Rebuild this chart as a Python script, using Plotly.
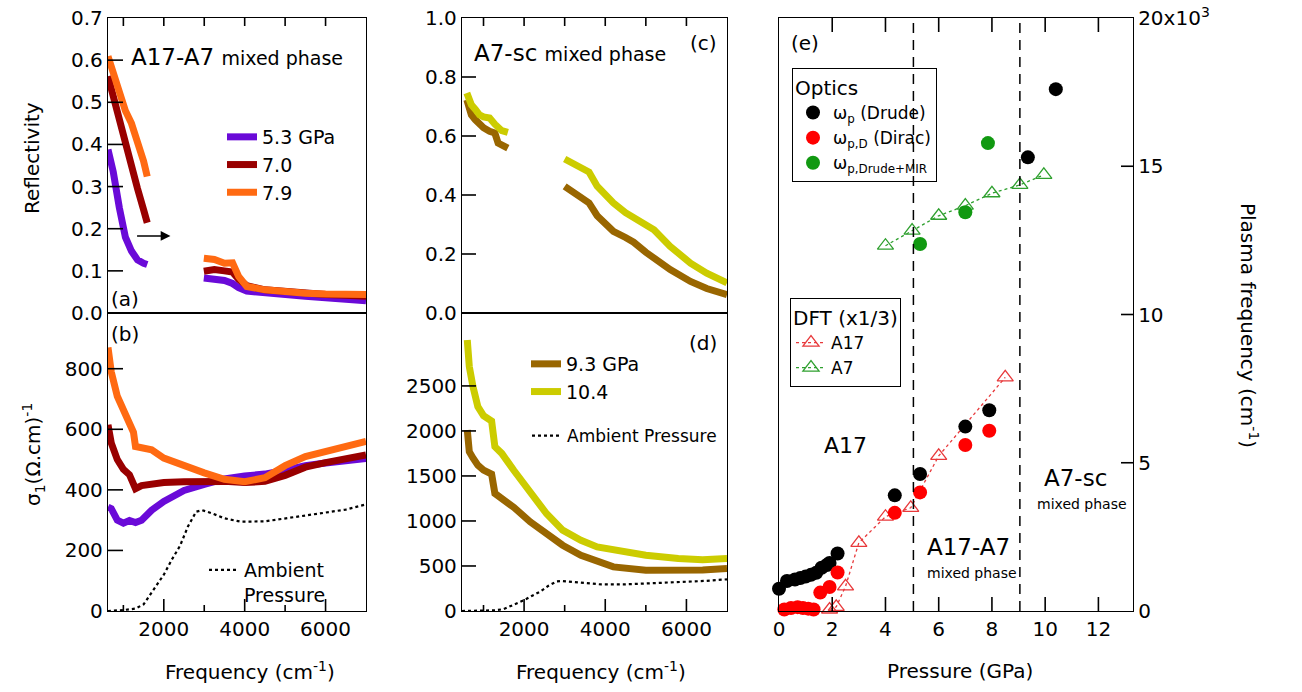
import plotly.graph_objects as go

FONT = "DejaVu Sans"
W, H = 1302, 692

# ---------------- Panel (a): reflectivity, A17-A7 mixed phase ----------------
pressures_a = ["5.3 GPa", "7.0", "7.9"]
freq_a_lo = [620, 750, 900, 1050, 1200, 1350, 1500, 1590]
refl_53_lo = [0.388, 0.335, 0.250, 0.180, 0.147, 0.126, 0.118, 0.115]
refl_70_lo = [0.562, 0.512, 0.455, 0.398, 0.350, 0.295, 0.245, 0.214]
refl_79_lo = [0.609, 0.570, 0.525, 0.480, 0.450, 0.410, 0.360, 0.324]
freq_a_hi = [2990, 3250, 3500, 3700, 3850, 4050, 4500, 5000, 5500, 6000, 6500, 7000]
refl_53_hi = [0.083, 0.080, 0.077, 0.070, 0.060, 0.052, 0.047, 0.043, 0.040, 0.036, 0.032, 0.029]
refl_70_hi = [0.099, 0.103, 0.100, 0.097, 0.080, 0.065, 0.055, 0.050, 0.047, 0.044, 0.042, 0.040]
refl_79_hi = [0.130, 0.127, 0.118, 0.119, 0.087, 0.063, 0.055, 0.050, 0.047, 0.045, 0.045, 0.044]

# ---------------- Panel (b): optical conductivity ----------------
freq_b = [620, 700, 850, 1000, 1150, 1250, 1300, 1450, 1700, 2000, 2500, 3000,
          3500, 4000, 4500, 5000, 5500, 6000, 6500, 7000]
sig_53 = [343, 338, 300, 290, 299, 292, 292, 300, 333, 362, 398, 418,
          436, 446, 452, 465, 480, 489, 496, 504]
sig_70 = [615, 555, 500, 468, 450, 410, 404, 414, 420, 424, 427, 430,
          428, 424, 428, 448, 475, 490, 502, 515]
sig_79 = [870, 790, 709, 665, 632, 590, 543, 537, 532, 505, 478, 456,
          435, 427, 440, 480, 510, 527, 543, 560]

# ambient pressure conductivity (shared by b and d)
freq_amb = [470, 620, 1000, 1300, 1500, 1750, 2000, 2200, 2400, 2600, 2800, 2950,
            3200, 3500, 3900, 4500, 5000, 5500, 6000, 6500, 7000]
sig_amb = [0, 0, 3, 8, 22, 70, 120, 170, 215, 280, 328, 333,
           322, 306, 295, 296, 305, 315, 325, 335, 352]

# ---------------- Panel (c): reflectivity, A7-sc mixed phase ----------------
pressures_c = ["9.3 GPa", "10.4"]
freq_c_lo = [590, 700, 800, 900, 1000, 1150, 1280, 1360, 1450, 1600]
refl_93_lo = [0.723, 0.672, 0.655, 0.638, 0.628, 0.616, 0.610, 0.576, 0.568, 0.559]
refl_104_lo = [0.746, 0.706, 0.690, 0.672, 0.665, 0.661, 0.640, 0.627, 0.618, 0.612]
freq_c_hi = [3000, 3300, 3600, 3800, 4000, 4200, 4500, 4700, 5000, 5200, 5600, 6100, 6500, 7000]
refl_104_hi = [0.522, 0.503, 0.478, 0.430, 0.400, 0.373, 0.340, 0.322, 0.302, 0.282, 0.226, 0.169, 0.135, 0.102]
refl_93_hi = [0.429, 0.401, 0.373, 0.330, 0.300, 0.277, 0.256, 0.240, 0.206, 0.185, 0.147, 0.107, 0.083, 0.062]

# ---------------- Panel (d): optical conductivity ----------------
freq_d = [600, 650, 740, 860, 1000, 1150, 1200, 1280, 1450, 1750, 2150, 2550,
          2950, 3400, 3800, 4200, 5000, 5800, 6400, 7000]
sig_104 = [3010, 2715, 2493, 2270, 2170, 2130, 2110, 1825, 1751, 1560, 1306, 1083,
           898, 786, 712, 675, 620, 582, 570, 582]
sig_93 = [2010, 1769, 1700, 1620, 1565, 1528, 1520, 1306, 1250, 1150, 990, 860,
          731, 619, 545, 490, 452, 445, 455, 471]

# ---------------- Panel (e): plasma frequency vs pressure ----------------
p_drude = [0.0, 0.3, 0.6, 0.8, 1.0, 1.2, 1.4, 1.6, 1.8, 1.9, 2.2, 4.35, 5.3, 7.0, 7.9, 9.35, 10.4]
wp_drude = [750, 1010, 1060, 1110, 1160, 1220, 1290, 1460, 1550, 1620, 1940,
            3900, 4620, 6220, 6770, 15300, 17600]
p_dirac = [-0.1, 0.2, 0.45, 0.7, 0.9, 1.1, 1.3, 1.55, 1.9, 2.2, 4.35, 5.3, 7.0, 7.9]
wp_dirac = [20, 50, 100, 130, 100, 80, 50, 620, 810, 1300, 3310, 4000, 5600, 6080]
p_drude_mir = [5.3, 7.0, 7.85]
wp_drude_mir = [12380, 13450, 15780]
p_dft_a17 = [1.9, 2.15, 2.5, 3.0, 4.0, 4.95, 6.0, 8.5]
wp_dft_a17 = [50, 140, 830, 2300, 3180, 3480, 5230, 7880]
p_dft_a7 = [4.0, 5.0, 6.0, 7.0, 8.0, 9.05, 9.95]
wp_dft_a7 = [12320, 12830, 13330, 13670, 14090, 14370, 14710]
phase_boundaries = [5.05, 9.05]

# ---------------- axis ranges and tick values ----------------
range_freq_ab = [620, 7000]
range_freq_cd = [470, 7000]
range_refl_a = [0, 0.7]
range_refl_c = [0, 1.0]
range_sig_b = [0, 984]
range_sig_d = [0, 3310]
range_p = [0, 13.3]
range_wp = [0, 20000]
freq_top_ticks = [1000, 2000, 3000, 4000, 5000, 6000]
freq_major_ticks = [2000, 4000, 6000]
freq_minor_ticks = [1000, 3000, 5000]
refl_a_ticks = [0.0, 0.1, 0.2, 0.3, 0.4, 0.5, 0.6, 0.7]
refl_c_ticks = [0.0, 0.2, 0.4, 0.6, 0.8, 1.0]
sig_b_ticks = [0, 200, 400, 600, 800]
sig_d_ticks = [0, 500, 1000, 1500, 2000, 2500]
p_ticks = [0, 2, 4, 6, 8, 10, 12]
e_yticks = [0, 5000, 10000, 15000, 20000]
e_yticktext = ["0", "5", "10", "15", "20x10<sup>3</sup>"]

# ---------------- colours ----------------
C_53, C_70, C_79 = "#6A0AD8", "#990000", "#FF6A12"
C_93, C_104 = "#996600", "#CCCC00"
C_RED, C_GREEN = "#FF0000", "#119911"
C_TRI_RED, C_TRI_GREEN = "#E8393B", "#2FA02F"

def px(x):
    return x / W

def py(y):
    return 1 - y / H

# panel pixel boxes (left, right, top, bottom)
BOX_A = (108, 366, 18, 313)
BOX_B = (108, 366, 313, 611)
BOX_C = (462, 727, 18, 313)
BOX_D = (462, 727, 313, 611)
BOX_E = (779, 1133, 18, 611)

def join(xlo, ylo, xhi, yhi):
    return list(xlo) + [None] + list(xhi), list(ylo) + [None] + list(yhi)

fig = go.Figure()
LW = 7

# (a)
for name, lo, hi, col in [(pressures_a[0], refl_53_lo, refl_53_hi, C_53),
                          (pressures_a[1], refl_70_lo, refl_70_hi, C_70),
                          (pressures_a[2], refl_79_lo, refl_79_hi, C_79)]:
    xx, yy = join(freq_a_lo, lo, freq_a_hi, hi)
    fig.add_trace(go.Scatter(x=xx, y=yy, mode="lines", name=name, xaxis="x", yaxis="y",
                             line=dict(color=col, width=LW), legend="legend3"))
# (b)
for s, col in [(sig_53, C_53), (sig_70, C_70), (sig_79, C_79)]:
    fig.add_trace(go.Scatter(x=freq_b, y=s, mode="lines", xaxis="x2", yaxis="y2",
                             line=dict(color=col, width=LW), showlegend=False))
fig.add_trace(go.Scatter(x=freq_amb, y=sig_amb, mode="lines", name="Ambient<br>Pressure",
                         xaxis="x2", yaxis="y2", legend="legend5",
                         line=dict(color="black", width=2.2, dash="3px,3px")))
# (c)
for name, lo, hi, col in [(pressures_c[0], refl_93_lo, refl_93_hi, C_93),
                          (pressures_c[1], refl_104_lo, refl_104_hi, C_104)]:
    xx, yy = join(freq_c_lo, lo, freq_c_hi, hi)
    fig.add_trace(go.Scatter(x=xx, y=yy, mode="lines", xaxis="x3", yaxis="y3",
                             line=dict(color=col, width=LW), showlegend=False))
# (d)
for name, s, col in [(pressures_c[0], sig_93, C_93), (pressures_c[1], sig_104, C_104)]:
    fig.add_trace(go.Scatter(x=freq_d, y=s, mode="lines", name=name, xaxis="x4", yaxis="y4",
                             line=dict(color=col, width=LW), legend="legend4"))
fig.add_trace(go.Scatter(x=freq_amb, y=sig_amb, mode="lines", name="Ambient Pressure",
                         xaxis="x4", yaxis="y4", legend="legend6",
                         line=dict(color="black", width=2.2, dash="3px,3px")))
# (e)
fig.add_trace(go.Scatter(x=p_dft_a17, y=wp_dft_a17, mode="lines+markers", name="A17",
                         xaxis="x5", yaxis="y5", legend="legend2", cliponaxis=False,
                         line=dict(color=C_TRI_RED, width=1.3, dash="dot"),
                         marker=dict(symbol="triangle-up-open", size=14, color=C_TRI_RED,
                                     line=dict(width=1.3))))
fig.add_trace(go.Scatter(x=p_dft_a7, y=wp_dft_a7, mode="lines+markers", name="A7",
                         xaxis="x5", yaxis="y5", legend="legend2", cliponaxis=False,
                         line=dict(color=C_TRI_GREEN, width=1.3, dash="dot"),
                         marker=dict(symbol="triangle-up-open", size=14, color=C_TRI_GREEN,
                                     line=dict(width=1.3))))
fig.add_trace(go.Scatter(x=p_drude, y=wp_drude, mode="markers", name="ω<sub>p</sub> (Drude)",
                         xaxis="x5", yaxis="y5", legend="legend", cliponaxis=False,
                         marker=dict(color="black", size=14)))
fig.add_trace(go.Scatter(x=p_dirac, y=wp_dirac, mode="markers", name="ω<sub>p,D</sub> (Dirac)",
                         xaxis="x5", yaxis="y5", legend="legend", cliponaxis=False,
                         marker=dict(color=C_RED, size=14)))
fig.add_trace(go.Scatter(x=p_drude_mir, y=wp_drude_mir, mode="markers",
                         name="ω<sub>p,Drude+MIR</sub>",
                         xaxis="x5", yaxis="y5", legend="legend", cliponaxis=False,
                         marker=dict(color=C_GREEN, size=14)))

# phase boundaries
for pb in phase_boundaries:
    fig.add_shape(type="line", xref="x5", yref="y5 domain", x0=pb, x1=pb, y0=0, y1=1,
                  line=dict(color="black", width=1.5, dash="10px,7px"))

# ---- inward tick marks, as line segments in each axis's own data units ----
def tick_marks(xa, ya, box, xr, yr, xvals=(), xlen=0, xside="bottom",
               yvals=(), ylen=0, yside="left"):
    l, r, t, b = box
    dx = (xr[1] - xr[0]) / (r - l)   # data units per pixel
    dy = (yr[1] - yr[0]) / (b - t)
    xs, ys = [], []
    for v in xvals:
        y0 = yr[0] if xside == "bottom" else yr[1]
        y1 = y0 + (xlen * dy if xside == "bottom" else -xlen * dy)
        xs += [v, v, None]
        ys += [y0, y1, None]
    for v in yvals:
        x0 = xr[0] if yside == "left" else xr[1]
        x1 = x0 + (ylen * dx if yside == "left" else -ylen * dx)
        xs += [x0, x1, None]
        ys += [v, v, None]
    fig.add_trace(go.Scatter(x=xs, y=ys, mode="lines", xaxis=xa, yaxis=ya,
                             line=dict(color="black", width=1.6), showlegend=False,
                             hoverinfo="skip", cliponaxis=False))

tick_marks("x", "y", BOX_A, range_freq_ab, range_refl_a, freq_top_ticks, 8, "top",
           refl_a_ticks[1:-1], 15)
tick_marks("x2", "y2", BOX_B, range_freq_ab, range_sig_b, freq_major_ticks, 12, "bottom",
           sig_b_ticks[1:], 15)
tick_marks("x2", "y2", BOX_B, range_freq_ab, range_sig_b, freq_minor_ticks, 6, "bottom")
tick_marks("x3", "y3", BOX_C, range_freq_cd, range_refl_c, freq_top_ticks, 8, "top",
           refl_c_ticks[1:-1], 14)
tick_marks("x4", "y4", BOX_D, range_freq_cd, range_sig_d, freq_major_ticks, 12, "bottom",
           sig_d_ticks[1:], 14)
tick_marks("x4", "y4", BOX_D, range_freq_cd, range_sig_d, freq_minor_ticks, 6, "bottom")
tick_marks("x5", "y5", BOX_E, range_p, range_wp, p_ticks[1:], 14, "bottom",
           e_yticks[1:-1], 12, "right")
tick_marks("x5", "y5", BOX_E, range_p, range_wp, p_ticks[1:], 14, "top")

def dom_x(box):
    return [px(box[0]), px(box[1])]

def dom_y(box):
    return [py(box[3]), py(box[2])]

tf = dict(family=FONT, size=20, color="black")
base = dict(showline=True, linecolor="black", linewidth=1.3, ticks="",
            tickfont=tf, showgrid=False, zeroline=False, automargin=False, mirror=True)

def legend_common(size):
    return dict(bgcolor="rgba(0,0,0,0)", xanchor="left", yanchor="top",
                font=dict(family=FONT, size=size, color="black"), tracegroupgap=0)

fig.update_layout(
    template="none",
    width=W, height=H, margin=dict(l=0, r=0, t=0, b=0, autoexpand=False),
    paper_bgcolor="white", plot_bgcolor="white",
    font=dict(family=FONT, color="black"),
    xaxis=dict(base, domain=dom_x(BOX_A), anchor="y", side="top", range=range_freq_ab,
               showticklabels=False),
    yaxis=dict(base, domain=dom_y(BOX_A), anchor="x", range=range_refl_a,
               tickvals=refl_a_ticks, tickformat=".1f"),
    xaxis2=dict(base, domain=dom_x(BOX_B), anchor="y2", range=range_freq_ab,
                tickvals=freq_major_ticks),
    yaxis2=dict(base, domain=dom_y(BOX_B), anchor="x2", range=range_sig_b,
                tickvals=sig_b_ticks),
    xaxis3=dict(base, domain=dom_x(BOX_C), anchor="y3", side="top", range=range_freq_cd,
                showticklabels=False),
    yaxis3=dict(base, domain=dom_y(BOX_C), anchor="x3", range=range_refl_c,
                tickvals=refl_c_ticks, tickformat=".1f"),
    xaxis4=dict(base, domain=dom_x(BOX_D), anchor="y4", range=range_freq_cd,
                tickvals=freq_major_ticks),
    yaxis4=dict(base, domain=dom_y(BOX_D), anchor="x4", range=range_sig_d,
                tickvals=sig_d_ticks),
    xaxis5=dict(base, domain=dom_x(BOX_E), anchor="y5", range=range_p, tickvals=p_ticks),
    yaxis5=dict(base, domain=dom_y(BOX_E), anchor="x5", side="right",
                range=range_wp, tickvals=e_yticks, ticktext=e_yticktext),
    legend=dict(legend_common(17), x=px(792), y=py(68), bordercolor="black", borderwidth=1,
                title=dict(text="Optics", font=dict(family=FONT, size=20, color="black"))),
    legend2=dict(legend_common(17), x=px(790), y=py(298), bordercolor="black", borderwidth=1,
                 title=dict(text="DFT (x1/3)", font=dict(family=FONT, size=20, color="black"))),
    legend3=dict(legend_common(19), x=px(222), y=py(118)),
    legend4=dict(legend_common(19), x=px(526), y=py(345)),
    legend5=dict(legend_common(19), x=px(204), y=py(551), valign="top"),
    legend6=dict(legend_common(17), x=px(527), y=py(418)),
)

ann = []
def text(x, y, s, size=19, xanchor="left", angle=0):
    ann.append(dict(x=px(x), y=py(y), xref="paper", yref="paper", text=s, showarrow=False,
                    xanchor=xanchor, yanchor="middle", textangle=angle,
                    font=dict(family=FONT, size=size, color="black")))

text(129, 57, "A17-A7 <span style='font-size:19px'>mixed phase</span>", 23)
text(109, 299, "(a)", 20)
text(109, 334, "(b)", 20)
text(472, 53, "A7-sc <span style='font-size:19px'>mixed phase</span>", 23)
text(719, 43, "(c)", 20, xanchor="right")
text(719, 343, "(d)", 20, xanchor="right")
text(789, 43, "(e)", 20)
text(822, 445, "A17", 22)
text(925, 547, "A17-A7", 23)
text(925, 573, "mixed phase", 14)
text(1042, 478, "A7-sc", 23)
text(1035, 504, "mixed phase", 14)
text(32, 158, "Reflectivity", 20, "center", -90)
text(33, 455, "σ<sub>1</sub>(Ω.cm)<sup>-1</sup>", 20, "center", -90)
text(250, 671, "Frequency (cm<sup>-1</sup>)", 20, "center")
text(601, 671, "Frequency (cm<sup>-1</sup>)", 20, "center")
text(960, 671, "Pressure (GPa)", 20, "center")
text(1249, 325, "Plasma frequency (cm<sup>-1</sup>)", 20, "center", 90)

# arrow in panel (a)
ann.append(dict(x=2164, y=0.183, ax=1302, ay=0.183, xref="x", yref="y", axref="x", ayref="y",
                text="", showarrow=True, arrowhead=2, arrowsize=1.3, arrowwidth=1.5,
                arrowcolor="black"))
fig.update_layout(annotations=ann)

fig.write_html("out.html")
